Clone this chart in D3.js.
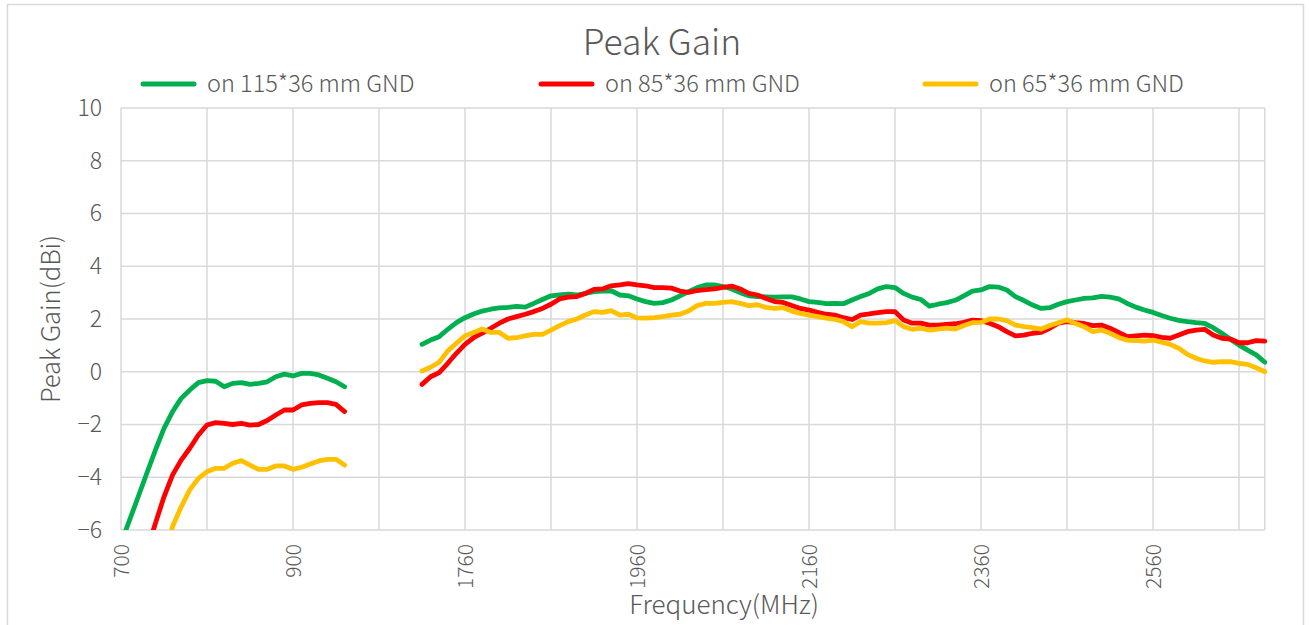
<!DOCTYPE html>
<html>
<head>
<meta charset="utf-8">
<script src="https://cdn.jsdelivr.net/npm/d3@7"></script>
<style>
  body { margin: 0; background: #fff; }
  text { font-family: "Noto Sans CJK SC", "DengXian", sans-serif; font-weight: 300; fill: #595959; }
</style>
</head>
<body>
<svg id="chart" width="1309" height="625"></svg>
<script>
// DATA ----------------------------------------------------------------------------------
const lowFreq = [700, 710, 720, 730, 740, 750, 760, 770, 780, 790, 800, 810, 820, 830,
  840, 850, 860, 870, 880, 890, 900, 910, 920, 930, 940, 950, 960];
const gapCount = 8; // empty rows between the two bands
const highFreq = [1710, 1720, 1730, 1740, 1750, 1760, 1770, 1780, 1790, 1800, 1810, 1820,
  1830, 1840, 1850, 1860, 1870, 1880, 1890, 1900, 1910, 1920, 1930, 1940, 1950, 1960,
  1970, 1980, 1990, 2000, 2010, 2020, 2030, 2040, 2050, 2060, 2070, 2080, 2090, 2100,
  2110, 2120, 2130, 2140, 2150, 2160, 2170, 2180, 2190, 2200, 2210, 2220, 2230, 2240,
  2250, 2260, 2270, 2280, 2290, 2300, 2310, 2320, 2330, 2340, 2350, 2360, 2370, 2380,
  2390, 2400, 2410, 2420, 2430, 2440, 2450, 2460, 2470, 2480, 2490, 2500, 2510, 2520,
  2530, 2540, 2550, 2560, 2570, 2580, 2590, 2600, 2610, 2620, 2630, 2640, 2650, 2660,
  2670, 2680, 2690];

// gain values (dBi), low band 700-960 and high band 1710-2690
const gnd115Low = [-6.5, -5.62, -4.74, -3.85, -2.97, -2.15, -1.51, -1.01, -0.69, -0.41,
  -0.34, -0.36, -0.57, -0.44, -0.41, -0.48, -0.44, -0.38, -0.19, -0.09, -0.16, -0.06,
  -0.06, -0.12, -0.25, -0.38, -0.57];
const gnd85Low = [-9.2, -8.4, -7.6, -6.8, -5.75, -4.74, -3.91, -3.35, -2.9, -2.4, -2.02,
  -1.93, -1.96, -2.0, -1.96, -2.02, -2.0, -1.85, -1.64, -1.45, -1.45, -1.26, -1.2, -1.17,
  -1.17, -1.24, -1.51];
const gnd65Low = [-9.5, -8.8, -8.1, -7.5, -7.1, -6.9, -5.87, -5.12, -4.48, -4.04, -3.79,
  -3.66, -3.66, -3.47, -3.37, -3.54, -3.7, -3.7, -3.57, -3.57, -3.7, -3.62, -3.5, -3.38,
  -3.32, -3.32, -3.54];

const gnd115High = [1.04, 1.2, 1.33, 1.61, 1.86, 2.05, 2.19, 2.3, 2.37, 2.42, 2.44, 2.48,
  2.45, 2.59, 2.74, 2.88, 2.91, 2.94, 2.91, 2.97, 3.04, 3.06, 3.07, 2.91, 2.88, 2.76,
  2.66, 2.59, 2.62, 2.72, 2.88, 3.04, 3.19, 3.29, 3.29, 3.23, 3.14, 3.0, 2.88, 2.85, 2.84,
  2.83, 2.84, 2.84, 2.76, 2.66, 2.63, 2.58, 2.59, 2.58, 2.72, 2.85, 2.97, 3.14, 3.23,
  3.19, 2.97, 2.83, 2.74, 2.49, 2.56, 2.62, 2.71, 2.88, 3.06, 3.1, 3.23, 3.21, 3.1, 2.85,
  2.7, 2.53, 2.4, 2.43, 2.56, 2.66, 2.72, 2.78, 2.8, 2.86, 2.83, 2.76, 2.59, 2.45, 2.34,
  2.25, 2.13, 2.03, 1.95, 1.9, 1.86, 1.83, 1.67, 1.46, 1.23, 1.01, 0.82, 0.64, 0.36];
const gnd85High = [-0.48, -0.19, -0.03, 0.32, 0.7, 1.04, 1.29, 1.46, 1.65, 1.84, 2.0,
  2.09, 2.18, 2.28, 2.4, 2.56, 2.76, 2.83, 2.85, 2.97, 3.12, 3.14, 3.26, 3.29, 3.34, 3.29,
  3.26, 3.19, 3.19, 3.17, 3.06, 3.01, 3.08, 3.11, 3.14, 3.2, 3.25, 3.14, 2.97, 2.91, 2.78,
  2.66, 2.63, 2.51, 2.4, 2.34, 2.25, 2.18, 2.15, 2.05, 1.98, 2.15, 2.19, 2.24, 2.28, 2.28,
  1.96, 1.84, 1.84, 1.77, 1.77, 1.8, 1.82, 1.87, 1.96, 1.94, 1.84, 1.71, 1.52, 1.36, 1.39,
  1.46, 1.49, 1.65, 1.84, 1.9, 1.86, 1.83, 1.75, 1.77, 1.65, 1.49, 1.33, 1.36, 1.39, 1.37,
  1.3, 1.27, 1.39, 1.52, 1.58, 1.61, 1.39, 1.27, 1.24, 1.1, 1.1, 1.18, 1.16];
const gnd65High = [0.03, 0.17, 0.36, 0.79, 1.08, 1.36, 1.49, 1.62, 1.49, 1.49, 1.27, 1.29,
  1.36, 1.42, 1.42, 1.58, 1.75, 1.9, 2.0, 2.15, 2.28, 2.25, 2.32, 2.15, 2.18, 2.04, 2.03,
  2.05, 2.09, 2.15, 2.18, 2.3, 2.51, 2.59, 2.59, 2.63, 2.66, 2.59, 2.51, 2.54, 2.44, 2.4,
  2.43, 2.3, 2.21, 2.15, 2.09, 2.03, 1.99, 1.9, 1.71, 1.9, 1.84, 1.84, 1.86, 1.94, 1.71,
  1.61, 1.65, 1.58, 1.62, 1.65, 1.62, 1.75, 1.86, 1.87, 2.0, 2.0, 1.94, 1.77, 1.71, 1.67,
  1.62, 1.75, 1.86, 1.97, 1.83, 1.71, 1.52, 1.58, 1.46, 1.3, 1.2, 1.18, 1.16, 1.2, 1.12,
  1.04, 0.89, 0.66, 0.51, 0.41, 0.36, 0.38, 0.38, 0.32, 0.28, 0.15, 0.0];

const seriesNames = ["on 115*36 mm GND", "on 85*36 mm GND", "on 65*36 mm GND"];
const seriesColors = ["#00b050", "#ff0000", "#ffc000"];
const yTicks = [-6, -4, -2, 0, 2, 4, 6, 8, 10];
const labelEvery = 20; // a label every 20 rows
const gridEvery = 10;  // a gridline every 10 rows

// BUILD THE ROWS (low band, empty rows, high band) ---------------------------------------
const blanks = new Array(gapCount).fill(null);
const categories = [...lowFreq.map(String), ...blanks.map(() => ""), ...highFreq.map(String)];
const series = [
  [...gnd115Low, ...blanks, ...gnd115High],
  [...gnd85Low, ...blanks, ...gnd85High],
  [...gnd65Low, ...blanks, ...gnd65High]
];
const idx = categories.map((c, i) => i);

// SET UP SVG --------------------------------------------------------------------------
const svg = d3.select("#chart");
const plot = { left: 121, right: 1264.8, top: 108, bottom: 530 };

svg.append("rect")
  .attr("x", 7.5).attr("y", 4.5)
  .attr("width", 1296).attr("height", 640)
  .attr("fill", "#fff")
  .attr("stroke", "#d9d9d9")
  .attr("stroke-width", 1.5);

const x = d3.scalePoint().domain(idx).range([plot.left, plot.right]);
const y = d3.scaleLinear().domain([-6, 10]).range([plot.bottom, plot.top]);

// GRIDLINES ---------------------------------------------------------------------------
const grid = svg.append("g").attr("stroke", "#d9d9d9").attr("stroke-width", 1.5);
grid.selectAll(".hgrid")
  .data(yTicks)
  .enter().append("line")
  .attr("x1", plot.left).attr("x2", plot.right)
  .attr("y1", d => y(d)).attr("y2", d => y(d));

const vIdx = idx.filter(i => i % gridEvery === 0 || i === idx.length - 1);
grid.selectAll(".vgrid")
  .data(vIdx)
  .enter().append("line")
  .attr("x1", d => x(d)).attr("x2", d => x(d))
  .attr("y1", plot.top).attr("y2", plot.bottom);

// AXES --------------------------------------------------------------------------------
const yAxis = svg.append("g")
  .attr("transform", `translate(${plot.left},0)`)
  .call(d3.axisLeft(y).tickValues(yTicks).tickSize(0).tickPadding(19).tickFormat(d3.format("d")));
yAxis.select(".domain").remove();
yAxis.selectAll("text").style("font-size", "23px").attr("fill", "#595959");

const xAxis = svg.append("g")
  .attr("transform", `translate(0,${plot.bottom})`)
  .call(d3.axisBottom(x)
    .tickValues(idx.filter(i => i % labelEvery === 0))
    .tickSize(0)
    .tickFormat(i => categories[i]));
xAxis.select(".domain").remove();
xAxis.selectAll("text")
  .style("font-size", "21px")
  .attr("fill", "#595959")
  .attr("transform", "rotate(-90)")
  .attr("text-anchor", "end")
  .attr("x", -14)
  .attr("y", 0)
  .attr("dy", "0.35em");

// LINES -------------------------------------------------------------------------------
svg.append("clipPath").attr("id", "clip")
  .append("rect")
  .attr("x", plot.left - 5).attr("y", plot.top)
  .attr("width", plot.right - plot.left + 10).attr("height", plot.bottom - plot.top);

const line = d3.line()
  .defined(d => d != null)
  .x((d, i) => x(i))
  .y(d => y(d));

svg.append("g").attr("clip-path", "url(#clip)")
  .selectAll("path")
  .data(series)
  .enter().append("path")
  .attr("fill", "none")
  .attr("stroke", (d, i) => seriesColors[i])
  .attr("stroke-width", 4.8)
  .attr("stroke-linejoin", "round")
  .attr("stroke-linecap", "round")
  .attr("d", line);

// TITLES ------------------------------------------------------------------------------
svg.append("text")
  .attr("x", 662).attr("y", 55)
  .attr("text-anchor", "middle")
  .style("font-size", "35.5px")
  .text("Peak Gain");

svg.append("text")
  .attr("x", 724).attr("y", 614)
  .attr("text-anchor", "middle")
  .style("font-size", "26px")
  .text("Frequency(MHz)");

svg.append("text")
  .attr("transform", `translate(60,${(plot.top + plot.bottom) / 2}) rotate(-90)`)
  .attr("text-anchor", "middle")
  .style("font-size", "25.5px")
  .text("Peak Gain(dBi)");

// LEGEND ------------------------------------------------------------------------------
const legendX = [141, 539, 923];
const legend = svg.append("g");
seriesNames.forEach((name, i) => {
  legend.append("line")
    .attr("x1", legendX[i] + 2).attr("x2", legendX[i] + 53)
    .attr("y1", 84).attr("y2", 84)
    .attr("stroke", seriesColors[i])
    .attr("stroke-width", 5)
    .attr("stroke-linecap", "round");
  legend.append("text")
    .attr("x", legendX[i] + 66).attr("y", 84)
    .attr("dy", "0.35em")
    .style("font-size", "23.5px")
    .text(name);
});
</script>
</body>
</html>
